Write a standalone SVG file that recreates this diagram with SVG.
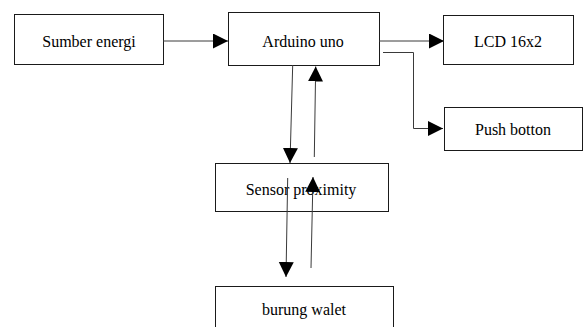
<svg xmlns="http://www.w3.org/2000/svg" width="585" height="327" viewBox="0 0 585 327">
<style>
.box{fill:#fff;stroke:#1a1a1a;stroke-width:1}
.lbl{font-family:"Liberation Serif","Times New Roman",serif;font-size:16px;fill:#000;text-anchor:middle}
.ln{fill:none;stroke:#3a3a3a;stroke-width:1}
</style>
<defs>
<marker id="ah" markerUnits="userSpaceOnUse" markerWidth="16" markerHeight="16" refX="15" refY="7.5" orient="auto">
<path d="M0,0 L15,7.5 L0,15 Z" fill="#000"/>
</marker>
</defs>
<rect width="585" height="327" fill="#fff"/>
<g id="sumber"><rect class="box" x="14.5" y="14.5" width="149" height="50"/><text class="lbl" x="89" y="47">Sumber energi</text></g>
<g id="arduino"><rect class="box" x="228.5" y="12.5" width="151" height="53"/><text class="lbl" x="303" y="47">Arduino uno</text></g>
<g id="lcd"><rect class="box" x="443.5" y="15.5" width="130" height="49"/><text class="lbl" x="508" y="47">LCD 16x2</text></g>
<g id="push"><rect class="box" x="444.5" y="107.5" width="138" height="43"/><text class="lbl" x="513" y="135">Push botton</text></g>
<g id="sensor"><rect class="box" x="215.5" y="163.5" width="173" height="48"/><text class="lbl" x="301" y="195">Sensor proximity</text></g>
<g id="walet"><rect class="box" x="215.5" y="286.5" width="178" height="50"/><text class="lbl" x="304" y="315">burung walet</text></g>
<g id="connectors">
<line class="ln" x1="163" y1="41" x2="228" y2="41" marker-end="url(#ah)"/>
<line class="ln" x1="379" y1="41" x2="444" y2="41" marker-end="url(#ah)"/>
<polyline class="ln" points="383,52.5 413.5,52.5 413.5,128.5 443,128.5" marker-end="url(#ah)"/>
<line class="ln" x1="292.7" y1="65" x2="290" y2="163" marker-end="url(#ah)"/>
<line class="ln" x1="314.3" y1="157" x2="315.7" y2="66.5" marker-end="url(#ah)"/>
<line class="ln" x1="287.7" y1="178" x2="286" y2="277" marker-end="url(#ah)"/>
<line class="ln" x1="311" y1="268" x2="313" y2="177" marker-end="url(#ah)"/>
</g>
</svg>
